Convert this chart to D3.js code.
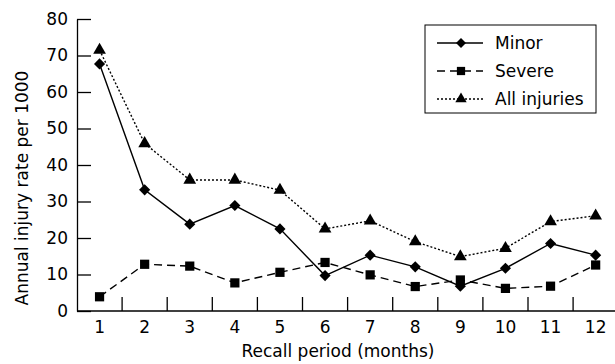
<!DOCTYPE html>
<html>
<head>
<meta charset="utf-8">
<script src="https://cdn.jsdelivr.net/npm/d3@7"></script>
<style>
  body { margin: 0; background: #fff; }
  svg { display: block; }
</style>
</head>
<body>
<div id="chart"></div>
<script>
const months = [1, 2, 3, 4, 5, 6, 7, 8, 9, 10, 11, 12];
const minor = [67.7, 33.2, 23.8, 28.9, 22.5, 9.7, 15.3, 12.1, 6.8, 11.7, 18.5, 15.3];
const severe = [3.9, 12.8, 12.3, 7.7, 10.6, 13.3, 9.9, 6.7, 8.5, 6.2, 6.8, 12.6];
const allInjuries = [71.5, 45.9, 35.9, 35.9, 33.1, 22.5, 24.7, 19.0, 14.9, 17.2, 24.5, 26.1];
const yTicks = [0, 10, 20, 30, 40, 50, 60, 70, 80];

// diamond = square turned 45 degrees, so width equals height
const series = [
  { name: 'Minor', values: minor, dash: null, symbol: d3.symbolSquare, size: 62, rot: 45 },
  { name: 'Severe', values: severe, dash: '8,5', symbol: d3.symbolSquare, size: 85, rot: 0 },
  { name: 'All injuries', values: allInjuries, dash: '2,2', symbol: d3.symbolTriangle, size: 70, rot: 0 }
];

const width = 615, height = 364;
const margin = { top: 19, right: 0, bottom: 53, left: 77 };
const innerWidth = width - margin.left - margin.right;
const innerHeight = height - margin.top - margin.bottom;
const bandWidth = 45.1;

const svg = d3.select('#chart').append('svg')
  .attr('width', width)
  .attr('height', height)
  .attr('font-family', 'DejaVu Sans, sans-serif')
  .attr('font-size', 17);

const g = svg.append('g')
  .attr('transform', `translate(${margin.left},${margin.top})`);

// the last band runs slightly past the right edge, as in the original
const x = d3.scaleBand()
  .domain(months)
  .range([0, bandWidth * months.length]);

const y = d3.scaleLinear()
  .domain([0, 80])
  .range([innerHeight, 0]);

const cx = m => x(m) + x.bandwidth() / 2;

// y axis, ticks pointing inward
const yAxis = g.append('g')
  .call(d3.axisLeft(y).tickValues(yTicks).tickSizeInner(-14).tickSizeOuter(0).tickPadding(9))
  .attr('font-family', null)
  .attr('font-size', null);
yAxis.select('.domain').attr('stroke', '#000').attr('stroke-width', 1.3);
yAxis.selectAll('.tick line').attr('stroke', '#000').attr('stroke-width', 1.3);
yAxis.selectAll('.tick text').attr('x', -9).attr('fill', '#000');

// x axis: own baseline plus band-boundary ticks pointing up
const xAxis = g.append('g')
  .attr('transform', `translate(0,${innerHeight})`)
  .call(d3.axisBottom(x).tickSize(0).tickPadding(10))
  .attr('font-family', null)
  .attr('font-size', null);
xAxis.select('.domain').remove();
xAxis.selectAll('.tick text').attr('fill', '#000');

g.append('line')
  .attr('x1', 0).attr('x2', innerWidth)
  .attr('y1', innerHeight).attr('y2', innerHeight)
  .attr('stroke', '#000')
  .attr('stroke-width', 1.3);

g.append('g')
  .selectAll('line')
  .data(months.slice(1))
  .join('line')
  .attr('x1', d => x(d))
  .attr('x2', d => x(d))
  .attr('y1', innerHeight)
  .attr('y2', innerHeight - 14)
  .attr('stroke', '#000')
  .attr('stroke-width', 1.3);

// lines
const line = d3.line()
  .x((d, i) => cx(months[i]))
  .y(d => y(d));

series.forEach(s => {
  g.append('path')
    .datum(s.values)
    .attr('fill', 'none')
    .attr('stroke', '#000')
    .attr('stroke-width', 1.4)
    .attr('stroke-dasharray', s.dash)
    .attr('d', line);

  g.append('g')
    .selectAll('path')
    .data(s.values)
    .join('path')
    .attr('transform', (d, i) => `translate(${cx(months[i])},${y(d)}) rotate(${s.rot})`)
    .attr('d', d3.symbol().type(s.symbol).size(s.size))
    .attr('fill', '#000');
});

// axis titles
svg.append('text')
  .attr('x', margin.left + innerWidth / 2 - 8)
  .attr('y', 357)
  .attr('text-anchor', 'middle')
  .text('Recall period (months)');

svg.append('text')
  .attr('transform', 'translate(28,188) rotate(-90)')
  .attr('text-anchor', 'middle')
  .text('Annual injury rate per 1000');

// legend
const legend = svg.append('g').attr('transform', 'translate(425,25)');
legend.append('rect')
  .attr('width', 171)
  .attr('height', 88)
  .attr('fill', '#fff')
  .attr('stroke', '#000')
  .attr('stroke-width', 1);

series.forEach((s, i) => {
  const ly = 18 + i * 28;
  legend.append('line')
    .attr('x1', 12).attr('x2', 58)
    .attr('y1', ly).attr('y2', ly)
    .attr('stroke', '#000')
    .attr('stroke-width', 1.4)
    .attr('stroke-dasharray', s.dash);
  legend.append('path')
    .attr('transform', `translate(36,${ly}) rotate(${s.rot})`)
    .attr('d', d3.symbol().type(s.symbol).size(s.size * 0.8))
    .attr('fill', '#000');
  legend.append('text')
    .attr('x', 70)
    .attr('y', ly)
    .attr('dy', '0.35em')
    .text(s.name);
});
</script>
</body>
</html>
